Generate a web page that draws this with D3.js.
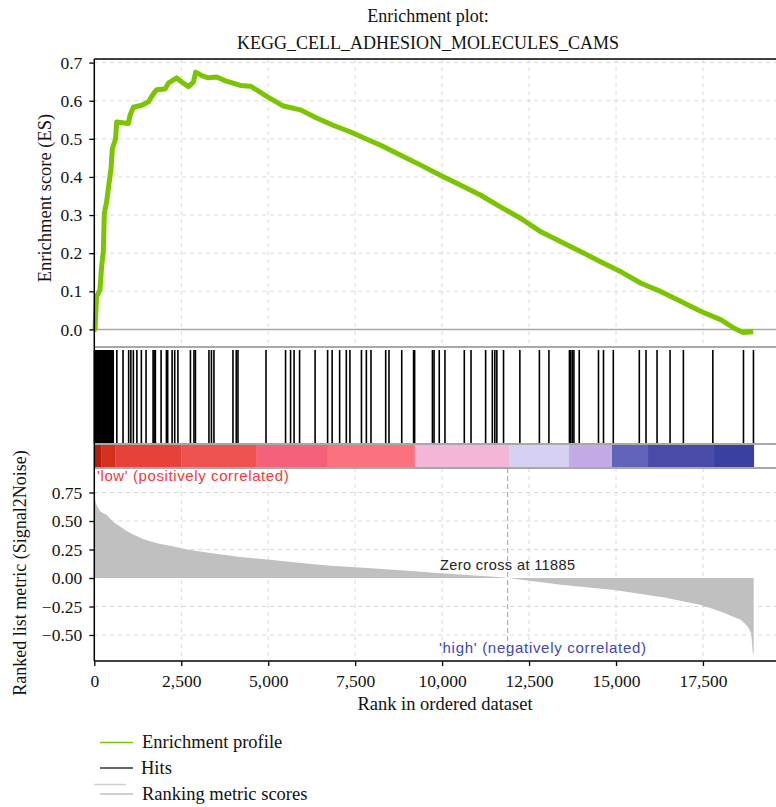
<!DOCTYPE html>
<html><head><meta charset="utf-8">
<script src="https://cdn.jsdelivr.net/npm/d3@7"></script>
<style>body{margin:0;background:#fff}svg{display:block}</style>
</head><body>
<svg id="c" width="776" height="807"></svg>
<script>
// ---------- data ----------
const xTicks = [0, 2500, 5000, 7500, 10000, 12500, 15000, 17500];
const esTicks = [0.0, 0.1, 0.2, 0.3, 0.4, 0.5, 0.6, 0.7];
const metricTicks = [-0.5, -0.25, 0, 0.25, 0.5, 0.75];
const nGenes = 18960;
const zeroCross = 11885;

const esRanks = [0, 20, 66, 164, 210, 259, 288, 354, 423, 481, 518, 613, 642, 979, 1028, 1123, 1362, 1555, 1699, 1794, 2035, 2130, 2369, 2513, 2706, 2850, 2916, 3089, 3282, 3521, 3771, 4203, 4491, 4722, 4981, 5441, 5931, 6362, 6881, 7370, 7802, 8234, 8810, 9386, 9961, 10537, 11113, 11689, 12265, 12840, 13416, 13992, 14568, 15144, 15719, 16295, 16871, 17447, 18023, 18397, 18656, 18944];
const esValues = [0, 0.0, 0.086, 0.104, 0.165, 0.204, 0.305, 0.335, 0.383, 0.422, 0.474, 0.50, 0.544, 0.54, 0.562, 0.583, 0.588, 0.597, 0.618, 0.629, 0.631, 0.646, 0.660, 0.649, 0.637, 0.649, 0.675, 0.666, 0.660, 0.662, 0.652, 0.640, 0.638, 0.625, 0.610, 0.586, 0.576, 0.556, 0.535, 0.518, 0.500, 0.483, 0.457, 0.431, 0.404, 0.378, 0.352, 0.321, 0.291, 0.256, 0.230, 0.204, 0.177, 0.151, 0.121, 0.099, 0.073, 0.047, 0.025, 0.003, -0.008, -0.006];

const hitRanks = [5, 25, 45, 70, 95, 120, 145, 170, 195, 220, 245, 270, 295, 320, 345, 370, 395, 420, 445, 470, 495, 520, 545,
  648, 826, 988, 1051, 1123, 1224, 1353, 1488, 1690, 1720, 1756, 1920, 2073, 2110, 2237, 2312, 2404, 2764, 2865, 2908, 3296, 3368, 3440, 3987, 4082, 4131, 4937, 5499, 5643, 5744, 5902, 6348, 6708, 6838, 7054, 7246, 7350, 7681, 7822, 7955, 8378, 8473, 8839, 9180, 9210, 9722, 9768, 9918, 10082, 10638, 10831, 11251, 11444, 11516, 11574, 11766, 12236, 12797, 13071, 13661, 13700, 13745, 13790, 13943, 14496, 14640, 14922, 15670, 15863, 16180, 16554, 16937, 17784, 18665, 18952];

const metricRanks = [0, 29, 78, 173, 366, 556, 749, 941, 1131, 1419, 1805, 2283, 2669, 3435, 4203, 4972, 5738, 6700, 7851, 8810, 9961, 11689, 11885, 13416, 14951, 16390, 17447, 18023, 18599, 18791, 18886, 18935, 18958];
const metricValues = [0.69, 0.678, 0.63, 0.583, 0.55, 0.49, 0.45, 0.41, 0.38, 0.34, 0.305, 0.277, 0.25, 0.214, 0.185, 0.162, 0.138, 0.109, 0.088, 0.067, 0.041, 0.006, 0, -0.06, -0.105, -0.17, -0.237, -0.295, -0.368, -0.427, -0.485, -0.66, -0.66];

const barStarts = [0, 200, 605, 2500, 4664, 6708, 9213, 11919, 13647, 14885, 15921, 17793];
const barEnds = [200, 605, 2500, 4664, 6708, 9213, 11919, 13647, 14885, 15921, 17793, 18960];
const barColors = ["#b81c10", "#d4301e", "#e8403a", "#f05252", "#f5607a", "#f9727e", "#f4b6d6", "#d6d0f2", "#c2aae6", "#6264ba", "#4a4aa8", "#3a40a0"];

// ---------- layout ----------
const svg = d3.select("#c");
const L = 94.3, R = 776;
const topY0 = 59, topY1 = 347, hitY1 = 444, barY1 = 468, botY1 = 661;
const x = d3.scaleLinear().domain([0, 19600]).range([L, R]);
const yES = d3.scaleLinear().domain([0, 0.7]).range([329.4, 62.6]);
const yM = d3.scaleLinear().domain([-0.5, 0.75]).range([635, 492.5]);
const serif = "'Liberation Serif', 'DejaVu Serif', serif";
const sans = "'Liberation Sans', Arial, sans-serif";

svg.append("rect").attr("width", 776).attr("height", 807).attr("fill", "#fff");

// grids
const grid = svg.append("g").attr("stroke", "#d8d8d8").attr("stroke-dasharray", "4,4").attr("stroke-width", 1);
xTicks.slice(1).forEach(t => {
  grid.append("line").attr("x1", x(t)).attr("x2", x(t)).attr("y1", topY0).attr("y2", topY1);
  grid.append("line").attr("x1", x(t)).attr("x2", x(t)).attr("y1", barY1).attr("y2", botY1);
});
esTicks.slice(1).forEach(t => grid.append("line").attr("x1", L).attr("x2", R).attr("y1", yES(t)).attr("y2", yES(t)));
metricTicks.filter(t => t !== 0).forEach(t => grid.append("line").attr("x1", L).attr("x2", R).attr("y1", yM(t)).attr("y2", yM(t)));

// zero line of ES
svg.append("line").attr("x1", L).attr("x2", R).attr("y1", yES(0)).attr("y2", yES(0)).attr("stroke", "#a8a8a8").attr("stroke-width", 1.5);

// panel separators
[topY1, hitY1, barY1].forEach(yy => svg.append("line").attr("x1", L).attr("x2", R).attr("y1", yy).attr("y2", yy).attr("stroke", "#a8a8a8").attr("stroke-width", 2));

// hits
svg.append("g").selectAll("line").data(hitRanks).join("line")
  .attr("x1", d => x(d)).attr("x2", d => x(d)).attr("y1", topY1 + 3).attr("y2", hitY1 - 1)
  .attr("stroke", "#000").attr("stroke-width", 1.6);

// color bar
svg.append("g").selectAll("rect").data(barStarts).join("rect")
  .attr("x", (d) => x(d)).attr("width", (d, i) => x(barEnds[i]) - x(d) + 0.3)
  .attr("y", hitY1 + 1).attr("height", barY1 - hitY1 - 2)
  .attr("fill", (d, i) => barColors[i]);

// metric area
const area = d3.area().x((d, i) => x(metricRanks[i])).y0(yM(0)).y1((d) => yM(d));
svg.append("path").datum(metricValues).attr("d", area).attr("fill", "#c0c0c0");

// zero cross line
svg.append("line").attr("x1", x(zeroCross)).attr("x2", x(zeroCross)).attr("y1", barY1).attr("y2", botY1)
  .attr("stroke", "#a0a0a0").attr("stroke-dasharray", "5,3").attr("stroke-width", 1);

// ES curve
const line = d3.line().x((d, i) => x(esRanks[i])).y(d => yES(d));
svg.append("path").datum(esValues).attr("d", line).attr("fill", "none")
  .attr("stroke", "#7ac500").attr("stroke-width", 5).attr("stroke-linejoin", "round");

// frame
svg.append("line").attr("x1", L).attr("x2", R).attr("y1", topY0).attr("y2", topY0).attr("stroke", "#000").attr("stroke-width", 1.5);

// axes
const axES = svg.append("g").attr("transform", `translate(${L},0)`)
  .call(d3.axisLeft(yES).tickValues(esTicks).tickFormat(d3.format(".1f")).tickSize(5).tickPadding(7).tickSizeOuter(0));
const axM = svg.append("g").attr("transform", `translate(${L},0)`)
  .call(d3.axisLeft(yM).tickValues(metricTicks).tickFormat(d => d3.format(".2f")(d).replace("-", "\u2212")).tickSize(5).tickPadding(7).tickSizeOuter(0));
const axX = svg.append("g").attr("transform", `translate(0,${botY1})`)
  .call(d3.axisBottom(x).tickValues(xTicks).tickFormat(d3.format(",")).tickSize(5).tickSizeOuter(0));
[axES, axM, axX].forEach(a => {
  a.select(".domain").remove();
  a.selectAll("line").attr("stroke", "#000").attr("stroke-width", 1.3);
  a.selectAll("text").attr("font-family", serif).attr("font-size", 17.5).attr("fill", "#111");
});
axX.selectAll("text").attr("dy", "1.0em");
// axis lines
svg.append("line").attr("x1", L).attr("x2", L).attr("y1", topY0).attr("y2", botY1).attr("stroke", "#000").attr("stroke-width", 1.5);
svg.append("line").attr("x1", L).attr("x2", R).attr("y1", botY1).attr("y2", botY1).attr("stroke", "#000").attr("stroke-width", 1.5);

// titles
svg.append("text").attr("x", 428).attr("y", 22).attr("text-anchor", "middle").attr("font-family", serif).attr("font-size", 18).attr("fill", "#111").text("Enrichment plot:");
svg.append("text").attr("x", 428).attr("y", 48.5).attr("text-anchor", "middle").attr("font-family", serif).attr("font-size", 18).attr("fill", "#111").text("KEGG_CELL_ADHESION_MOLECULES_CAMS");

svg.append("text").attr("transform", "translate(51,198) rotate(-90)").attr("text-anchor", "middle").attr("font-family", serif).attr("font-size", 18.5).attr("fill", "#111").text("Enrichment score (ES)");
svg.append("text").attr("transform", "translate(26,573) rotate(-90)").attr("text-anchor", "middle").attr("font-family", serif).attr("font-size", 18).attr("fill", "#111").text("Ranked list metric (Signal2Noise)");
svg.append("text").attr("x", 445).attr("y", 710).attr("text-anchor", "middle").attr("font-family", serif).attr("font-size", 18.5).attr("fill", "#111").text("Rank in ordered dataset");

// in-plot labels
svg.append("text").attr("x", 97).attr("y", 481).attr("font-family", sans).attr("font-size", 15).attr("letter-spacing", 0.6).attr("fill", "#f23a3a").text("'low' (positively correlated)");
svg.append("text").attr("x", 440).attr("y", 570).attr("font-family", sans).attr("font-size", 14.5).attr("letter-spacing", 0.4).attr("fill", "#222").text("Zero cross at " + zeroCross);
svg.append("text").attr("x", 439).attr("y", 653).attr("font-family", sans).attr("font-size", 15).attr("letter-spacing", 0.7).attr("fill", "#4048b0").text("'high' (negatively correlated)");

// legend
const lg = svg.append("g").attr("font-family", serif).attr("font-size", 18.5).attr("fill", "#111");
lg.append("line").attr("x1", 100).attr("x2", 133).attr("y1", 742.5).attr("y2", 742.5).attr("stroke", "#78c400").attr("stroke-width", 1.5);
lg.append("text").attr("x", 142).attr("y", 748).text("Enrichment profile");
lg.append("line").attr("x1", 100).attr("x2", 133).attr("y1", 768).attr("y2", 768).attr("stroke", "#333").attr("stroke-width", 1.5);
lg.append("text").attr("x", 141).attr("y", 774).text("Hits");
lg.append("line").attr("x1", 94).attr("x2", 126).attr("y1", 784.5).attr("y2", 784.5).attr("stroke", "#d0d0d0").attr("stroke-width", 1.5);
lg.append("line").attr("x1", 100).attr("x2", 133).attr("y1", 794).attr("y2", 794).attr("stroke", "#c0c0c0").attr("stroke-width", 1.5);
lg.append("text").attr("x", 142).attr("y", 800).text("Ranking metric scores");
</script>
</body></html>
